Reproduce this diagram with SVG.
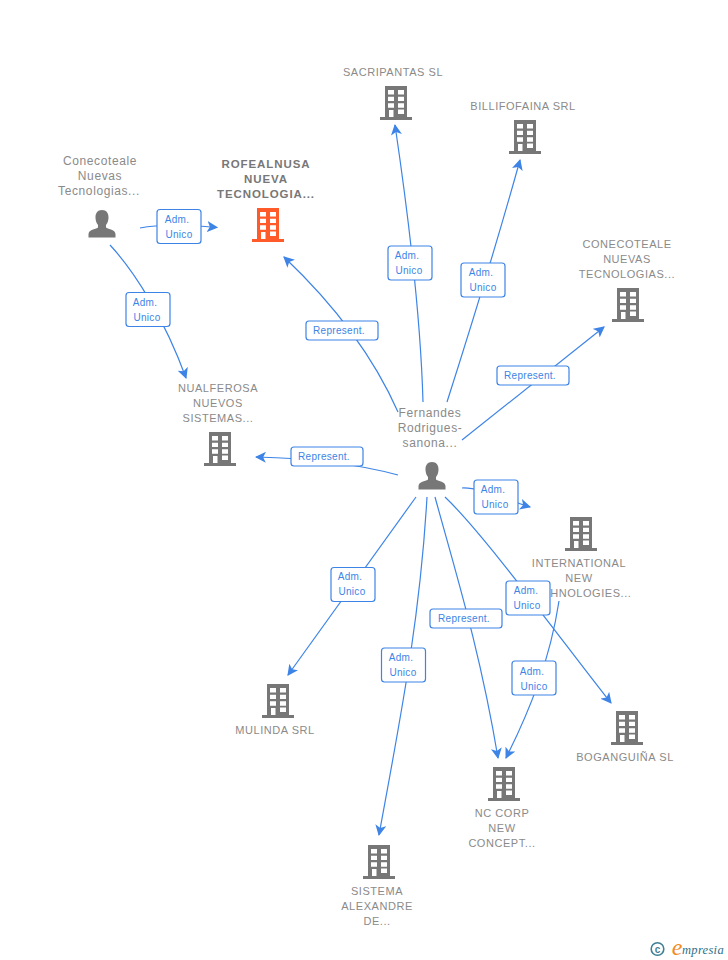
<svg xmlns="http://www.w3.org/2000/svg" width="728" height="960" viewBox="0 0 728 960">
<style>
text{font-family:"Liberation Sans",Arial,sans-serif;font-size:11px;text-anchor:middle}
.n{fill:#8a8a8a;letter-spacing:.55px}
.p{fill:#8a8a8a;font-size:12px;letter-spacing:.6px}
.h{fill:#777;font-weight:bold;font-size:11.5px;letter-spacing:.9px}
.c{fill:none;stroke:#3d84e6;stroke-width:1.2}
.b{fill:#fff;stroke:#3d84e6;stroke-width:1.2}
.l{fill:#3d84e6;font-size:10px;letter-spacing:.3px}
.g{fill:#777}
.o{fill:#ff5a2a}
</style>
<defs>
<marker id="a" viewBox="0 0 10 10" refX="9" refY="5" markerWidth="11" markerHeight="11" markerUnits="userSpaceOnUse" orient="auto"><path d="M0 0L10 5L0 10L2.5 5Z" fill="#3d84e6"/></marker>
<path id="bld" fill-rule="evenodd" d="M5 0H27V31H32V34H0V31H5ZM8 4V8.500H14V4ZM18 4V8.500H24V4ZM8 10.700V15H14V10.700ZM18 10.700V15H24V10.700ZM8 17.300V21.700H14V17.300ZM18 17.300V21.700H24V17.300ZM9 24V31H13.500V24ZM18 23.500V28H24V23.500Z"/>
<path id="psn" d="M14 0C18.500 0 20.800 3.500 20.500 8C20.300 11 19.500 13 18 15V17.500C21 19.500 27 19.500 27.500 24V27.500H.5V24C1 19.500 7 19.500 10 17.500V15C8.500 13 7.700 11 7.500 8C7.200 3.500 9.500 0 14 0Z"/>
</defs>
<g id="connectors">
<path class="c" marker-end="url(#a)" d="M140 228C160 224 190 225 217 227.500"/>
<path class="c" marker-end="url(#a)" d="M110 245C135 272 165 320 186 378"/>
<path class="c" marker-end="url(#a)" d="M398 412C375 360 340 310 284 257"/>
<path class="c" marker-end="url(#a)" d="M423 402C421 330 412 240 395 125"/>
<path class="c" marker-end="url(#a)" d="M447 402C470 330 495 250 520 160"/>
<path class="c" marker-end="url(#a)" d="M462 440L604 327"/>
<path class="c" marker-end="url(#a)" d="M398 475C350 462 300 458 256 457"/>
<path class="c" marker-end="url(#a)" d="M462 488C480 487 505 500 530 507"/>
<path class="c" marker-end="url(#a)" d="M416 497L288 675"/>
<path class="c" marker-end="url(#a)" d="M427 497C420 620 400 720 379 835"/>
<path class="c" marker-end="url(#a)" d="M435 497C455 570 480 650 498 758"/>
<path class="c" marker-end="url(#a)" d="M445 497C485 535 565 645 611 703"/>
<path class="c" marker-end="url(#a)" d="M559 601C550 660 530 710 506 758"/>
</g>
<g id="person-conecoteale"><use href="#psn" class="g" x="88" y="210"/><text class="p" x="100" y="165">Conecoteale</text><text class="p" x="100" y="180">Nuevas</text><text class="p" x="99" y="195">Tecnologias...</text></g>
<g id="rofealnusa"><use href="#bld" class="o" x="252" y="208"/><text class="h" x="266" y="168">ROFEALNUSA</text><text class="h" x="266" y="183">NUEVA</text><text class="h" x="266" y="198">TECNOLOGIA...</text></g>
<g id="sacripantas"><use href="#bld" class="g" x="380" y="86"/><text class="n" x="393" y="76">SACRIPANTAS SL</text></g>
<g id="billifofaina"><use href="#bld" class="g" x="509" y="120"/><text class="n" x="523" y="110">BILLIFOFAINA SRL</text></g>
<g id="conecoteale"><use href="#bld" class="g" x="612" y="288"/><text class="n" x="627" y="248">CONECOTEALE</text><text class="n" x="627" y="263">NUEVAS</text><text class="n" x="627" y="278">TECNOLOGIAS...</text></g>
<g id="nualferosa"><use href="#bld" class="g" x="204" y="432"/><text class="n" x="218" y="392">NUALFEROSA</text><text class="n" x="218" y="407">NUEVOS</text><text class="n" x="218" y="422">SISTEMAS...</text></g>
<g id="person-fernandes"><use href="#psn" class="g" x="418" y="462"/><text class="p" x="430" y="417">Fernandes</text><text class="p" x="430" y="432">Rodrigues-</text><text class="p" x="430" y="447">sanona...</text></g>
<g id="international"><use href="#bld" class="g" x="565" y="517"/><text class="n" x="579" y="567">INTERNATIONAL</text><text class="n" x="579" y="582">NEW</text><text class="n" x="579" y="597">TECHNOLOGIES...</text></g>
<g id="mulinda"><use href="#bld" class="g" x="262" y="684"/><text class="n" x="275" y="734">MULINDA SRL</text></g>
<g id="ncorp"><use href="#bld" class="g" x="488" y="767"/><text class="n" x="502" y="817">NC CORP</text><text class="n" x="502" y="832">NEW</text><text class="n" x="502" y="847">CONCEPT...</text></g>
<g id="boganguina"><use href="#bld" class="g" x="611" y="711"/><text class="n" x="625" y="761">BOGANGUIÑA SL</text></g>
<g id="sistema"><use href="#bld" class="g" x="363" y="845"/><text class="n" x="377" y="895">SISTEMA</text><text class="n" x="377" y="910">ALEXANDRE</text><text class="n" x="377" y="925">DE...</text></g>
<g id="labels">
<rect class="b" x="157" y="209.500" width="44" height="34" rx="3"/><text class="l" x="177" y="223">Adm.</text><text class="l" x="179" y="238">Unico</text>
<rect class="b" x="126" y="292.500" width="44" height="34" rx="3"/><text class="l" x="145" y="306">Adm.</text><text class="l" x="147" y="321">Unico</text>
<rect class="b" x="388" y="246" width="44" height="34" rx="3"/><text class="l" x="407" y="259">Adm.</text><text class="l" x="409" y="274">Unico</text>
<rect class="b" x="461" y="263" width="44" height="34" rx="3"/><text class="l" x="481" y="276">Adm.</text><text class="l" x="483" y="291">Unico</text>
<rect class="b" x="306" y="321" width="72" height="19" rx="3"/><text class="l" x="339" y="334">Represent.</text>
<rect class="b" x="497" y="366" width="72" height="19" rx="3"/><text class="l" x="530" y="379">Represent.</text>
<rect class="b" x="291" y="447" width="72" height="19" rx="3"/><text class="l" x="324" y="460">Represent.</text>
<rect class="b" x="474" y="480" width="44" height="34" rx="3"/><text class="l" x="493" y="493">Adm.</text><text class="l" x="495" y="508">Unico</text>
<rect class="b" x="506" y="581" width="44" height="34" rx="3"/><text class="l" x="526" y="594">Adm.</text><text class="l" x="527" y="609">Unico</text>
<rect class="b" x="331" y="567.500" width="44" height="34" rx="3"/><text class="l" x="350" y="580">Adm.</text><text class="l" x="352" y="595">Unico</text>
<rect class="b" x="430" y="609" width="72" height="19" rx="3"/><text class="l" x="464" y="622">Represent.</text>
<rect class="b" x="512" y="661" width="44" height="34" rx="3"/><text class="l" x="532" y="675">Adm.</text><text class="l" x="534" y="690">Unico</text>
<rect class="b" x="381.500" y="648" width="44" height="34" rx="3"/><text class="l" x="401" y="661">Adm.</text><text class="l" x="403" y="676">Unico</text>
</g>
<g id="logo"><circle cx="657.500" cy="949" r="6.300" fill="none" stroke="#3f7f96" stroke-width="1.600"/><text x="657.500" y="952.500" style="font-size:10px;font-weight:bold;fill:#3f7f96">c</text><text x="677" y="955" style="font-family:'Liberation Serif',serif;font-style:italic;font-size:24px;fill:#f28a1e">e</text><text x="703" y="954" style="font-family:'Liberation Serif',serif;font-style:italic;font-size:12.500px;fill:#2f6f86;letter-spacing:.3px">mpresia</text></g>
</svg>
